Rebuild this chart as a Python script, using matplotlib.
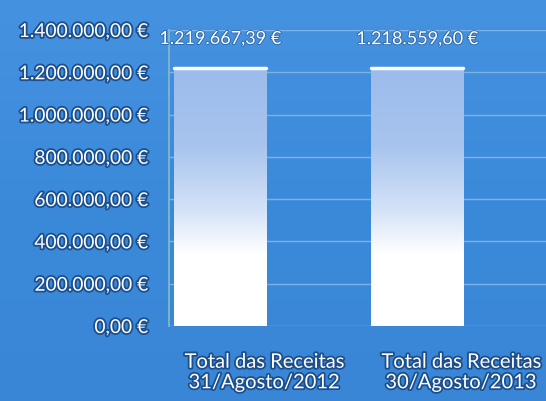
import numpy as np
import matplotlib
matplotlib.use("Agg")
import matplotlib.pyplot as plt
import matplotlib.patheffects as pe
import matplotlib.transforms as mtransforms
from matplotlib.colors import LinearSegmentedColormap

categories = ["Total das Receitas\n31/Agosto/2012", "Total das Receitas\n30/Agosto/2013"]
values = [1219667.39, 1218559.60]
value_labels = ["1.219.667,39 €", "1.218.559,60 €"]
yticks = [0, 200000, 400000, 600000, 800000, 1000000, 1200000, 1400000]
ytick_labels = ["0,00 €", "200.000,00 €", "400.000,00 €", "600.000,00 €",
                "800.000,00 €", "1.000.000,00 €", "1.200.000,00 €", "1.400.000,00 €"]

plt.rcParams['font.family'] = ['Lato', 'DejaVu Sans']

W, H = 546, 401
fig = plt.figure(figsize=(W / 100, H / 100), dpi=100)
# background gradient
bg = fig.add_axes([0, 0, 1, 1])
bg.set_axis_off()
bgcmap = LinearSegmentedColormap.from_list("bg", ["#4592e0", "#3b8ada", "#3a86d6"])
grad = np.linspace(0, 1, 256).reshape(-1, 1) * np.ones((1, 2))
bg.imshow(grad, aspect='auto', cmap=bgcmap, extent=[0, 1, 0, 1], origin='upper')

left_px, top_px, bot_px = 169, 30, 326
ax = fig.add_axes([left_px / W, 1 - bot_px / H, 1 - left_px / W, (bot_px - top_px) / H])
ax.patch.set_alpha(0)
ax.set_yticks(yticks)
ax.set_yticklabels(ytick_labels)
ax.set_xticks(range(len(categories)))
ax.set_xticklabels(categories)
for s in ["top", "right", "bottom"]:
    ax.spines[s].set_visible(False)
ax.spines["left"].set_color("#7fb8c8")
ax.spines["left"].set_linewidth(1.3)
ax.tick_params(axis='y', length=0, pad=15)
ax.tick_params(axis='x', length=0, pad=20)
ax.grid(axis='y', color="#8fbbe8", linewidth=1.0, alpha=0.8)
ax.set_axisbelow(True)

outline = [pe.withStroke(linewidth=2.6, foreground="#1c4f8e")]
for lab in ax.get_yticklabels():
    lab.set_color("white")
    lab.set_fontsize(13.8)
    lab.set_path_effects(outline)
shift = mtransforms.ScaledTranslation(44 / 100, 0, fig.dpi_scale_trans)
for lab in ax.get_xticklabels():
    lab.set_color("white")
    lab.set_fontsize(14.5)
    lab.set_linespacing(1.25)
    lab.set_path_effects(outline)
    lab.set_transform(lab.get_transform() + shift)

bars = ax.bar(range(len(categories)), values, width=0.47, color="none", edgecolor="none", zorder=2)
barcmap = LinearSegmentedColormap.from_list(
    "bar", [(0, "#9cbcec"), (0.3, "#a8c4ee"), (0.55, "#d4e2f8"), (0.72, "#ffffff"), (1, "#ffffff")])
bgrad = np.linspace(0, 1, 256).reshape(-1, 1) * np.ones((1, 2))
for b in bars:
    x0, y0 = b.get_x(), b.get_y()
    w, h = b.get_width(), b.get_height()
    im = ax.imshow(bgrad, aspect='auto', cmap=barcmap, origin='upper',
                   extent=[x0, x0 + w, y0, y0 + h], zorder=2)
    im.set_clip_path(b)
    ax.plot([x0, x0 + w], [y0 + h, y0 + h], color="white", linewidth=2.5, zorder=3,
            solid_capstyle='round')
ax.set_xlim(-0.26, 1.655)
ax.set_ylim(0, 1400000)

for i, (v, t) in enumerate(zip(values, value_labels)):
    ax.annotate(t, (i, v), xytext=(0, 21), textcoords="offset points",
                ha="center", va="center", color="white", fontsize=13,
                path_effects=[pe.withStroke(linewidth=1.2, foreground="#2a64a8")])

fig.savefig("out.png", dpi=100)
